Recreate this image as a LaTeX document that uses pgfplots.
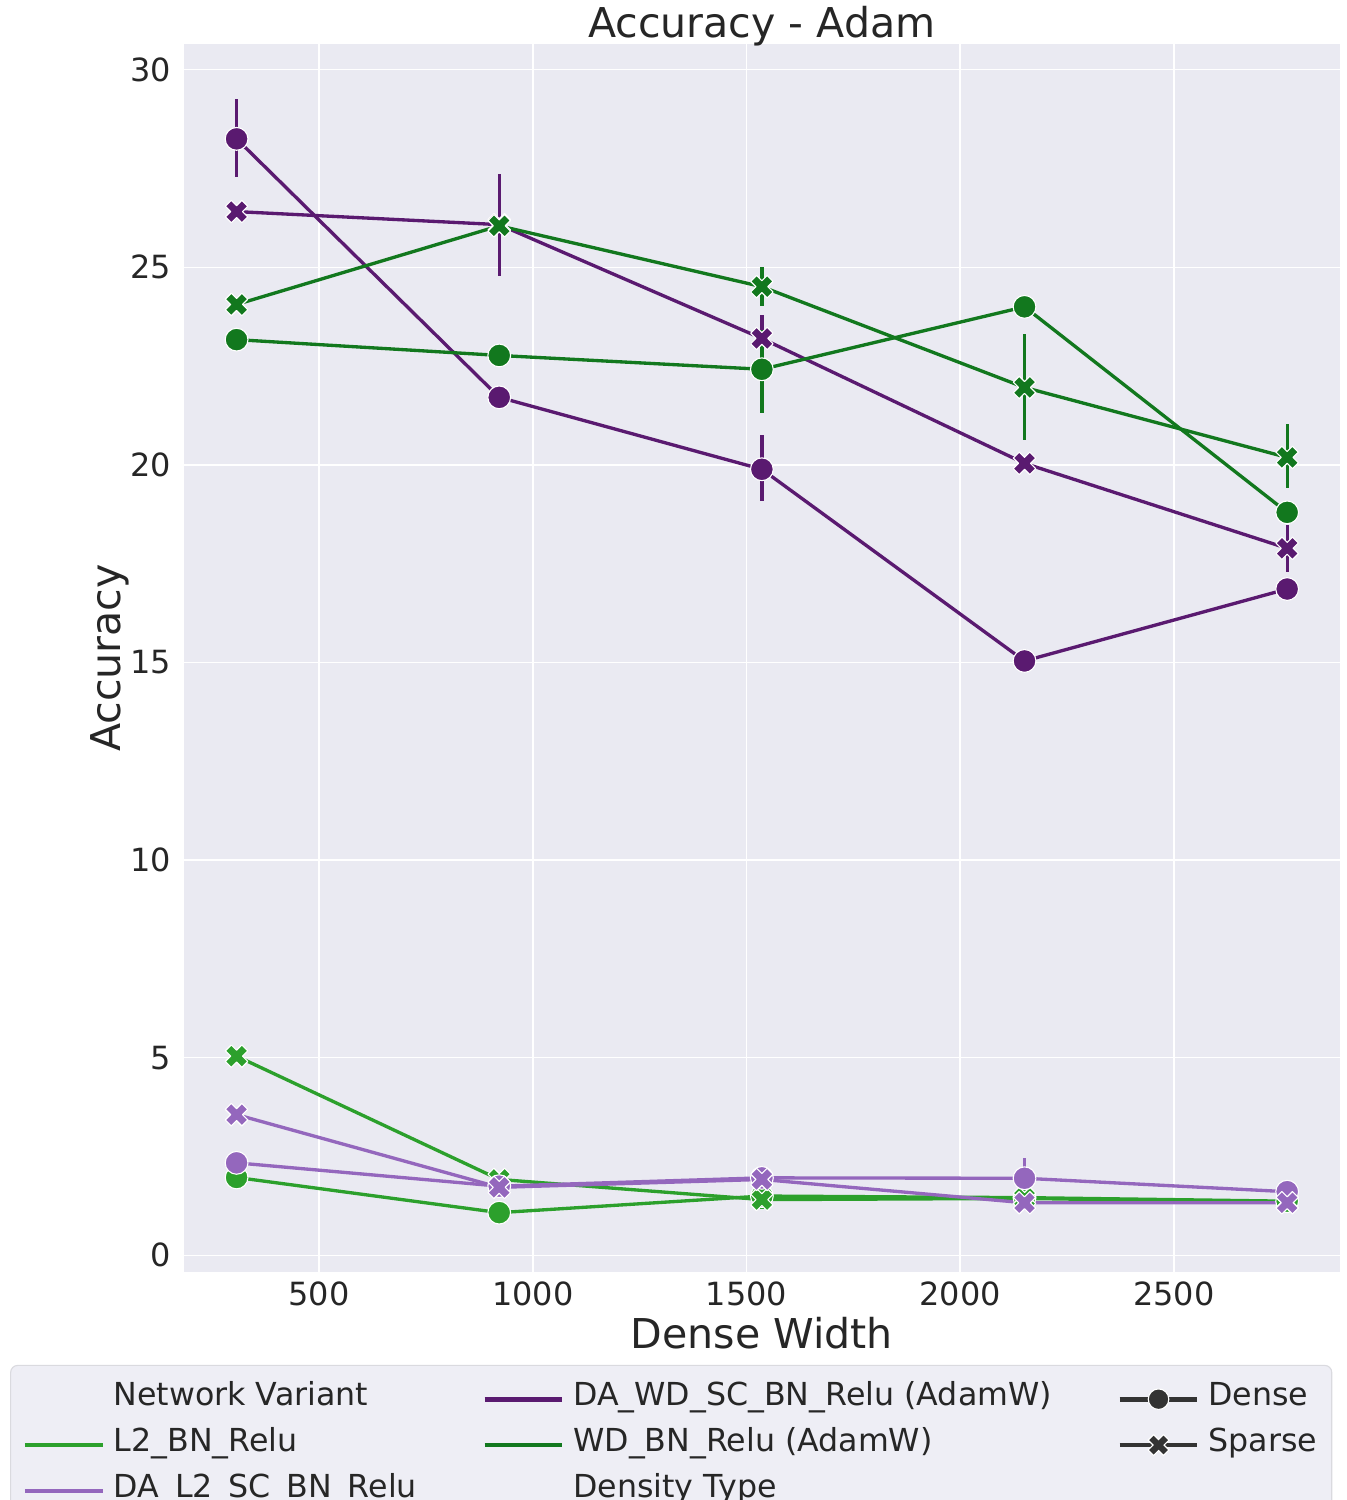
\documentclass[border=0pt]{standalone}
\usepackage{fontspec}
\setmainfont{DejaVu Sans}
\usepackage{pgfplots}
\pgfplotsset{compat=1.18}

\definecolor{txt}{HTML}{262626}
\definecolor{bgax}{HTML}{EAEAF2}
\definecolor{cLtwo}{HTML}{2CA02C}
\definecolor{cDAltwo}{HTML}{9467BD}
\definecolor{cDAwd}{RGB}{90,26,112}
\definecolor{cWD}{RGB}{18,120,30}
\definecolor{legfill}{HTML}{EEEEF5}
\definecolor{legedge}{HTML}{DADADF}

% filled X marker like matplotlib's "X"
\pgfdeclareplotmark{Xf}{%
  \pgfpathmoveto{\pgfpoint{0.962\pgfplotmarksize}{0.453\pgfplotmarksize}}%
  \pgfpathlineto{\pgfpoint{0.453\pgfplotmarksize}{0.962\pgfplotmarksize}}%
  \pgfpathlineto{\pgfpoint{0pt}{0.509\pgfplotmarksize}}%
  \pgfpathlineto{\pgfpoint{-0.453\pgfplotmarksize}{0.962\pgfplotmarksize}}%
  \pgfpathlineto{\pgfpoint{-0.962\pgfplotmarksize}{0.453\pgfplotmarksize}}%
  \pgfpathlineto{\pgfpoint{-0.509\pgfplotmarksize}{0pt}}%
  \pgfpathlineto{\pgfpoint{-0.962\pgfplotmarksize}{-0.453\pgfplotmarksize}}%
  \pgfpathlineto{\pgfpoint{-0.453\pgfplotmarksize}{-0.962\pgfplotmarksize}}%
  \pgfpathlineto{\pgfpoint{0pt}{-0.509\pgfplotmarksize}}%
  \pgfpathlineto{\pgfpoint{0.453\pgfplotmarksize}{-0.962\pgfplotmarksize}}%
  \pgfpathlineto{\pgfpoint{0.962\pgfplotmarksize}{-0.453\pgfplotmarksize}}%
  \pgfpathlineto{\pgfpoint{0.509\pgfplotmarksize}{0pt}}%
  \pgfpathclose
  \pgfusepathqfillstroke}

\pgfplotsset{
  ln/.style={color=#1, line width=2.4pt, line join=round},
  dense/.style={ln=#1, mark=*, mark size=8.2pt,
    mark options={draw=white, fill=#1, line width=0.8pt}},
  sparse/.style={ln=#1, mark=Xf, mark size=8.4pt,
    mark options={draw=white, fill=#1, line width=0.8pt}},
  err/.style={draw=none, no marks, forget plot,
    error bars/.cd, y dir=both, y explicit, error mark=none,
    error bar style={draw=#1, line width=2.4pt}},
}

% x  y  ep  em
\pgfplotstableread{
x y ep em
307.2 1.97 0 0
921.6 1.08 0 0
1536 1.50 0 0
2150.4 1.46 0 0
2764.8 1.37 0 0
}\ltwoDense
\pgfplotstableread{
x y ep em
307.2 5.04 0.15 0.15
921.6 1.92 0 0
1536 1.41 0.25 0.25
2150.4 1.44 0 0
2764.8 1.34 0 0
}\ltwoSparse
\pgfplotstableread{
x y ep em
307.2 2.34 0 0
921.6 1.75 0 0
1536 1.96 0 0
2150.4 1.95 0.52 0.5
2764.8 1.61 0 0
}\daltwoDense
\pgfplotstableread{
x y ep em
307.2 3.56 0.15 0.15
921.6 1.72 0 0
1536 1.92 0.35 0.35
2150.4 1.33 0 0
2764.8 1.33 0 0
}\daltwoSparse
\pgfplotstableread{
x y ep em
307.2 28.25 1.0 0.96
921.6 21.71 0 0
1536 19.89 0.86 0.81
2150.4 15.04 0 0
2764.8 16.86 0 0
}\dawdDense
\pgfplotstableread{
x y ep em
307.2 26.41 0 0
921.6 26.08 1.29 1.29
1536 23.20 0.6 0.6
2150.4 20.04 0 0
2764.8 17.89 0.6 0.6
}\dawdSparse
\pgfplotstableread{
x y ep em
307.2 23.17 0 0
921.6 22.77 0.25 0.25
1536 22.42 1.0 1.1
2150.4 24.00 0 0
2764.8 18.80 0 0
}\wdDense
\pgfplotstableread{
x y ep em
307.2 24.06 0 0
921.6 26.05 0 0
1536 24.51 0.5 0.5
2150.4 21.96 1.36 1.34
2764.8 20.19 0.84 0.78
}\wdSparse

\begin{document}
\begin{tikzpicture}
\begin{axis}[
  at={(0,0)}, anchor=south west,
  scale only axis, width=832pt, height=884pt,
  xmin=184.3, xmax=2887.7, ymin=-0.42, ymax=30.65,
  xtick={500,1000,1500,2000,2500},
  ytick={0,5,10,15,20,25,30},
  /pgf/number format/assume math mode=true,
  /pgf/number format/set thousands separator={},
  axis background/.style={fill=bgax},
  axis line style={draw=none},
  major tick length=0pt,
  tick style={draw=none},
  grid=major,
  major grid style={white, line width=1.1pt},
  ticklabel style={font=\fontsize{23}{27}\selectfont, text=txt},
  xticklabel style={anchor=north, inner sep=0pt, yshift=-7pt},
  yticklabel style={anchor=east, inner sep=0pt, xshift=-9.4pt},
  title={Accuracy - Adam},
  title style={at={(axis description cs:0.5,1)}, anchor=base, yshift=-1.6pt,
    inner sep=0pt, font=\fontsize{29.6}{34}\selectfont, text=txt},
  xlabel={Dense Width},
  xlabel style={at={(axis description cs:0.5,-0.0367)}, anchor=north,
    inner sep=0pt, font=\fontsize{29.6}{34}\selectfont, text=txt},
  ylabel={Accuracy},
  ylabel style={at={(axis description cs:-0.0812,0.5)}, anchor=north,
    inner sep=0pt, font=\fontsize{29.6}{34}\selectfont, text=txt},
  legend columns=3,
  legend cell align=left,
  legend style={at={(axis description cs:-0.1505,-0.0757)}, anchor=north west,
    fill=legfill, draw=legedge, line width=0.8pt, rounded corners=5pt,
    font=\fontsize{22.8}{27}\selectfont, text=txt,
    inner xsep=8.6pt, inner ysep=7.8pt,
    nodes={inner sep=2pt, text height=19pt, text depth=10pt},
    row sep=0pt, column sep=4.2pt,
    /tikz/every even column/.append style={column sep=45pt}},
  legend image code/.code={%
    \draw[mark repeat=2, mark phase=2, #1]
      plot coordinates {(0pt,0pt) (28pt,0pt) (56pt,0pt)};},
]

% L2_BN_Relu
\addplot[err=cLtwo] table[x=x, y=y, y error plus=ep, y error minus=em] {\ltwoDense};
\addplot[dense=cLtwo, forget plot] table[x=x, y=y] {\ltwoDense};
\addplot[err=cLtwo] table[x=x, y=y, y error plus=ep, y error minus=em] {\ltwoSparse};
\addplot[sparse=cLtwo, forget plot] table[x=x, y=y] {\ltwoSparse};
% DA_L2_SC_BN_Relu
\addplot[err=cDAltwo] table[x=x, y=y, y error plus=ep, y error minus=em] {\daltwoDense};
\addplot[dense=cDAltwo, forget plot] table[x=x, y=y] {\daltwoDense};
\addplot[err=cDAltwo] table[x=x, y=y, y error plus=ep, y error minus=em] {\daltwoSparse};
\addplot[sparse=cDAltwo, forget plot] table[x=x, y=y] {\daltwoSparse};
% DA_WD_SC_BN_Relu (AdamW)
\addplot[err=cDAwd] table[x=x, y=y, y error plus=ep, y error minus=em] {\dawdDense};
\addplot[dense=cDAwd, forget plot] table[x=x, y=y] {\dawdDense};
\addplot[err=cDAwd] table[x=x, y=y, y error plus=ep, y error minus=em] {\dawdSparse};
\addplot[sparse=cDAwd, forget plot] table[x=x, y=y] {\dawdSparse};
% WD_BN_Relu (AdamW)
\addplot[err=cWD] table[x=x, y=y, y error plus=ep, y error minus=em] {\wdDense};
\addplot[dense=cWD, forget plot] table[x=x, y=y] {\wdDense};
\addplot[err=cWD] table[x=x, y=y, y error plus=ep, y error minus=em] {\wdSparse};
\addplot[sparse=cWD, forget plot] table[x=x, y=y] {\wdSparse};

% legend, filled row by row
\addlegendimage{empty legend}
\addlegendentry{Network Variant}
\addlegendimage{color=cDAwd, line width=3.4pt}
\addlegendentry{DA\_WD\_SC\_BN\_Relu (AdamW)}
\addlegendimage{color=black!80, line width=3.4pt, mark=*, mark size=7.4pt,
  mark options={fill=black!80, draw=white, line width=0.8pt}}
\addlegendentry{Dense}
\addlegendimage{color=cLtwo, line width=3.4pt}
\addlegendentry{L2\_BN\_Relu}
\addlegendimage{color=cWD, line width=3.4pt}
\addlegendentry{WD\_BN\_Relu (AdamW)}
\addlegendimage{color=black!80, line width=3.4pt, mark=Xf, mark size=7.8pt,
  mark options={fill=black!80, draw=white, line width=0.8pt}}
\addlegendentry{Sparse}
\addlegendimage{color=cDAltwo, line width=3.4pt}
\addlegendentry{DA\_L2\_SC\_BN\_Relu}
\addlegendimage{empty legend}
\addlegendentry{Density Type}
\addlegendimage{empty legend}
\addlegendentry{}
\end{axis}
\pgfresetboundingbox
\path[use as bounding box] (-132.5pt,-164.2pt) rectangle (837pt,915.7pt);
\end{tikzpicture}
\end{document}
